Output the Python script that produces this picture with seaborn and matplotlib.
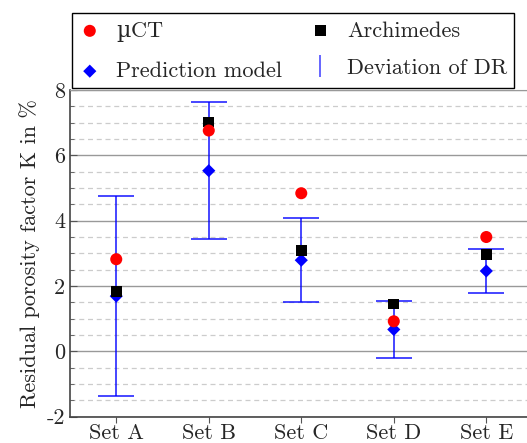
import seaborn as sns
import pandas as pd
import matplotlib.pyplot as plt
from matplotlib.ticker import MultipleLocator

sets = ["Set A", "Set B", "Set C", "Set D", "Set E"]
mu_ct = [2.82, 6.76, 4.84, 0.92, 3.50]
archimedes = [1.83, 7.02, 3.09, 1.45, 2.97]
prediction = [1.69, 5.53, 2.79, 0.67, 2.46]
dev_dr = [3.07, 2.09, 1.29, 0.87, 0.66]

df = pd.DataFrame({"set": sets, "mu": mu_ct, "arch": archimedes,
                   "pred": prediction, "dev": dev_dr})

sns.set_style("ticks")
plt.rcParams["font.family"] = ["cmr10", "DejaVu Serif"]
plt.rcParams["mathtext.fontset"] = "custom"
plt.rcParams["mathtext.rm"] = "DejaVu Serif"
plt.rcParams["axes.unicode_minus"] = False

mu_label = r"$\mathrm{µ}$CT"

fig = plt.figure(figsize=(5.27, 4.43), dpi=100)
ax = fig.add_axes([70 / 527, 26.3 / 443, 1 - 70 / 527, 326.7 / 443])

# deviation of DR around the prediction model
ax.errorbar(range(len(sets)), df["pred"], yerr=df["dev"], fmt="none",
            ecolor="#0000ff", elinewidth=1.2, capsize=13, capthick=1.2,
            alpha=0.85, zorder=3)
# small proxy for the legend
eb_proxy = ax.errorbar([], [], yerr=[], fmt="none", ecolor="#0000ff",
                       elinewidth=1.2, capsize=3.5, capthick=1.2, alpha=0.7)

sns.scatterplot(data=df, x="set", y="pred", marker="D", s=45, color="#0000ff",
                edgecolor="none", ax=ax, zorder=4, label="Prediction model")
sns.scatterplot(data=df, x="set", y="arch", marker="s", s=60, color="black",
                edgecolor="none", ax=ax, zorder=5, label="Archimedes")
sns.scatterplot(data=df, x="set", y="mu", marker="o", s=75, color="#ff0000",
                edgecolor="none", ax=ax, zorder=6, label=mu_label)

ax.set_xlim(-0.5, 4.44)
ax.set_ylim(-2, 8)
ax.yaxis.set_major_locator(MultipleLocator(2))
ax.yaxis.set_minor_locator(MultipleLocator(0.5))
ax.grid(which="major", axis="y", color="#999999", linewidth=1.0, zorder=0)
ax.grid(which="minor", axis="y", color="#cccccc", linewidth=0.9,
        linestyle=(0, (4, 3)), zorder=0)
ax.set_axisbelow(True)

ax.set_xlabel("")
ax.set_ylabel("Residual porosity factor K in %", fontsize=16, labelpad=5)
ax.tick_params(axis="both", labelsize=16)
ax.tick_params(axis="y", which="major", direction="in", length=5, color="#555555")
ax.tick_params(axis="y", which="minor", direction="in", length=3, color="#555555")
ax.tick_params(axis="x", direction="out", length=4, color="#555555", pad=1)
for side in ["left", "bottom"]:
    ax.spines[side].set_color("#444444")
    ax.spines[side].set_linewidth(1.2)
ax.spines["top"].set_color("#999999")
ax.spines["right"].set_visible(False)

handles, labels = ax.get_legend_handles_labels()
ax.get_legend().remove()
lookup = dict(zip(labels, handles))
names = [mu_label, "Prediction model", "Archimedes", "Deviation of DR"]
hs = [lookup[mu_label], lookup["Prediction model"], lookup["Archimedes"], eb_proxy]
leg = fig.legend(hs, names, ncol=2, loc="upper left",
                 bbox_to_anchor=(72 / 527, 1 - 13 / 443), fontsize=16,
                 frameon=True, fancybox=False, edgecolor="black",
                 handlelength=1.0, handletextpad=0.7, columnspacing=1.2,
                 labelspacing=0.8, borderpad=0.3, borderaxespad=0)
leg.get_frame().set_linewidth(1.0)
leg.get_frame().set_alpha(1)

fig.savefig("out.png", dpi=100)
plt.close()
